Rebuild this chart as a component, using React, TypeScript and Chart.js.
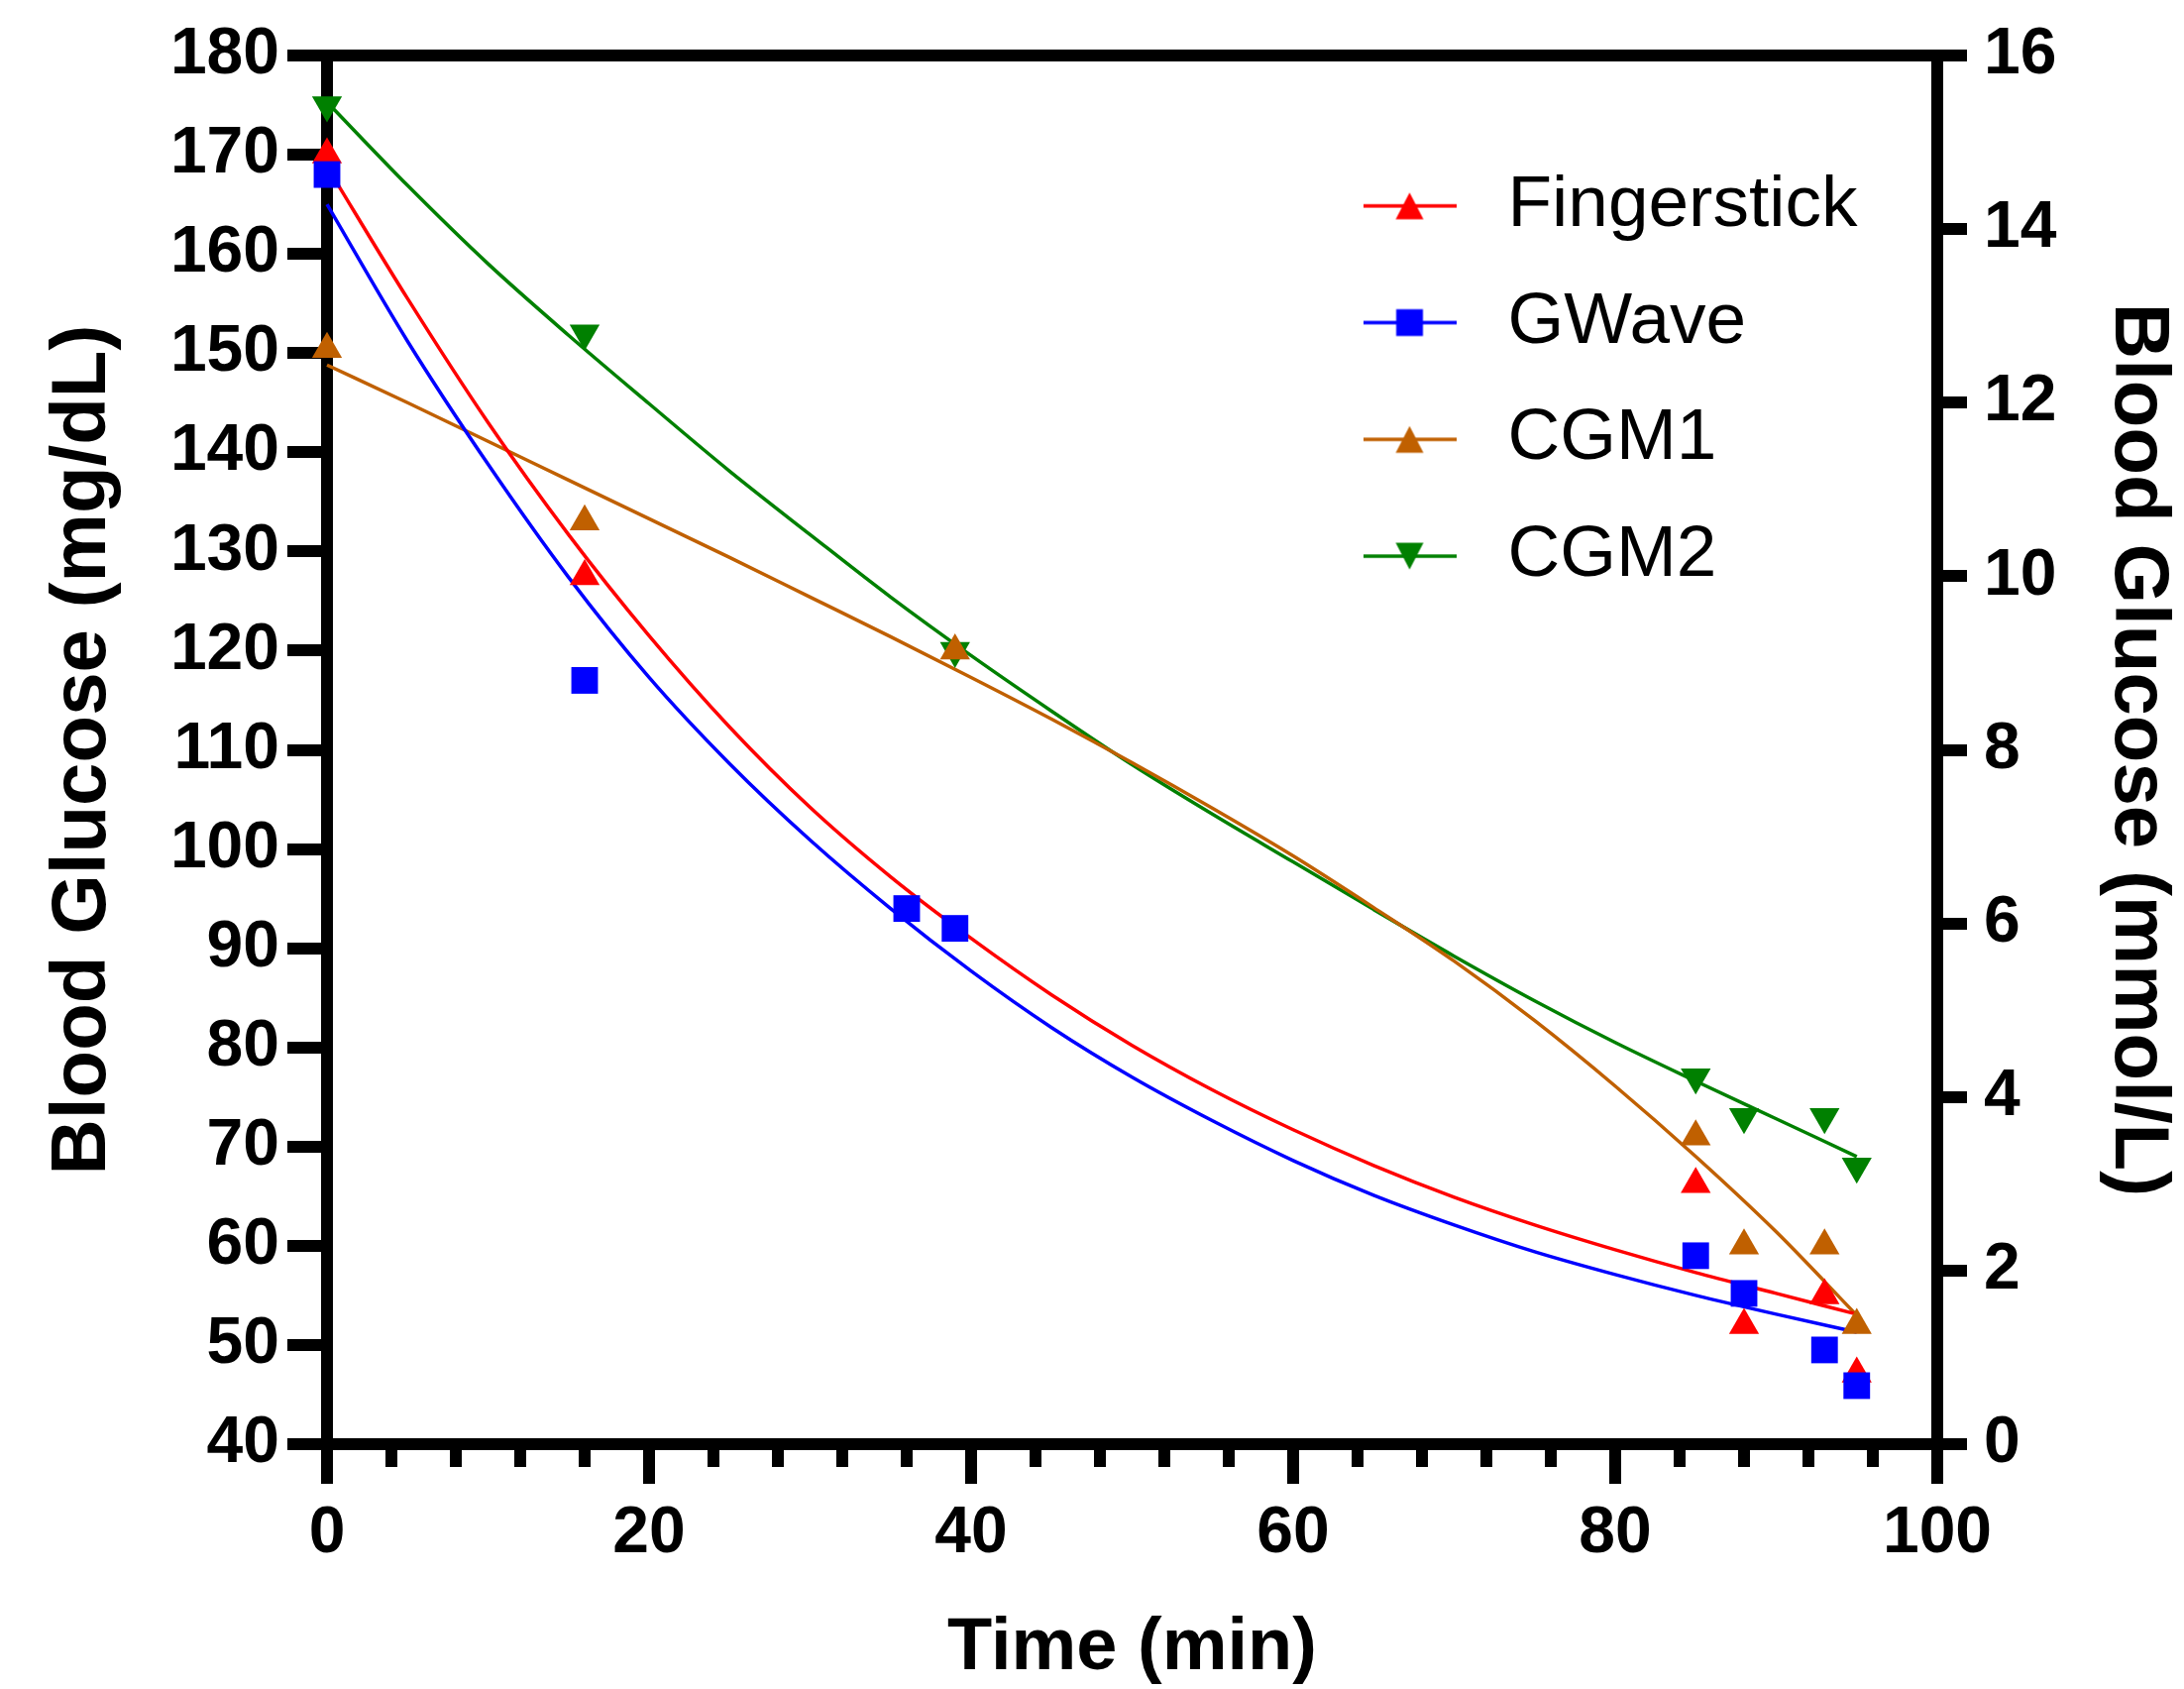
import React, { useEffect, useRef } from 'react';
import { Chart, registerables } from 'chart.js';

Chart.register(...registerables);

const FONT = "'Liberation Sans', Arial, Helvetica, sans-serif";

// ---- Series meta ----
const seriesNames = ['Fingerstick', 'GWave', 'CGM1', 'CGM2'];
const seriesColors = ['#FF0000', '#0000FF', '#C06000', '#008000'];

// ---- Measured points (time in min, glucose in mg/dL) ----
const fingerTime = [0, 16, 85, 88, 93, 95];
const fingerValues = [170, 127.5, 66.2, 52, 55, 47.1];

const gwaveTime = [0, 16, 36, 39, 85, 88, 93, 95];
const gwaveValues = [168, 117, 94, 92, 59, 55.2, 49.5, 45.9];

const cgmTime = [0, 16, 39, 85, 88, 93, 95];
const cgm1Values = [150.4, 133, 120, 71, 60, 60, 52];
const cgm2Values = [175, 152, 120, 77, 73, 73, 68];

// ---- Fitted curves ----
const fitTime = [0, 5, 10, 15, 20, 25, 30, 35, 40, 45, 50, 55, 60, 65, 70, 75, 80, 85, 90, 95];
const fingerFit = [168.8, 155.5, 143.0, 131.7, 121.5, 112.3, 104.2, 97.2, 91.0, 85.3, 80.2, 75.7, 71.7, 68.1, 64.9, 62.1, 59.6, 57.3, 55.2, 53.1];
const gwaveFit = [165.0, 151.2, 138.8, 127.4, 117.3, 108.6, 100.9, 94.0, 87.7, 82.0, 77.0, 72.6, 68.6, 65.1, 62.1, 59.4, 57.1, 55.0, 53.1, 51.3];
const cgm1Fit = [148.8, 145.0, 141.1, 137.2, 133.3, 129.4, 125.4, 121.4, 117.3, 113.1, 108.7, 104.1, 99.3, 94.1, 88.7, 82.7, 76.1, 69.0, 61.4, 53.0];
const cgm2Fit = [175.3, 166.9, 159.0, 151.8, 144.9, 138.1, 131.7, 125.4, 119.5, 113.9, 108.5, 103.5, 98.7, 93.9, 89.2, 84.7, 80.5, 76.6, 72.8, 69.0];

// ---- Tick values ----
const xMajorTicks = [0, 20, 40, 60, 80, 100];
const xMinorTicks = [0, 4, 8, 12, 16, 20, 24, 28, 32, 36, 40, 44, 48, 52, 56, 60, 64, 68, 72, 76, 80, 84, 88, 92, 96, 100];
const yLeftTicks = [40, 50, 60, 70, 80, 90, 100, 110, 120, 130, 140, 150, 160, 170, 180];
const yRightTicks = [0, 2, 4, 6, 8, 10, 12, 14, 16];

const LEGEND_PAD = 44.8;
const LEGEND_X = 1360;
const LEGEND_Y = 171.2;

function makeLegendSymbol(color: string, shape: string): HTMLCanvasElement {
  const c = document.createElement('canvas');
  c.width = 94;
  c.height = 30;
  const ctx = c.getContext('2d') as CanvasRenderingContext2D;
  ctx.strokeStyle = color;
  ctx.lineWidth = 3.5;
  ctx.beginPath();
  ctx.moveTo(0, 15);
  ctx.lineTo(94, 15);
  ctx.stroke();
  ctx.fillStyle = color;
  const cx = 47;
  const cy = 15;
  if (shape === 'rect') {
    ctx.fillRect(cx - 13.5, cy - 13.5, 27, 27);
  } else if (shape === 'up') {
    ctx.beginPath();
    ctx.moveTo(cx, cy - 13.5);
    ctx.lineTo(cx + 14, cy + 13.5);
    ctx.lineTo(cx - 14, cy + 13.5);
    ctx.closePath();
    ctx.fill();
  } else {
    ctx.beginPath();
    ctx.moveTo(cx, cy + 13.5);
    ctx.lineTo(cx + 14, cy - 13.5);
    ctx.lineTo(cx - 14, cy - 13.5);
    ctx.closePath();
    ctx.fill();
  }
  return c;
}

const legendPlacer = {
  id: 'legendPlacer',
  afterLayout(chart: any) {
    const lg = chart.legend;
    if (!lg) return;
    lg.left = LEGEND_X - LEGEND_PAD;
    lg.top = LEGEND_Y - LEGEND_PAD;
    lg.width = 700;
    lg.height = 700;
    lg.right = lg.left + 700;
    lg.bottom = lg.top + 700;
  },
};

export default function App() {
  const ref = useRef<HTMLCanvasElement>(null);

  useEffect(() => {
    const canvas = ref.current;
    if (!canvas) return;

    const symbolShapes = ['up', 'rect', 'up', 'down'];
    const symbols = seriesNames.map((_, i) => makeLegendSymbol(seriesColors[i], symbolShapes[i]));

    const pointSets = [
      { t: fingerTime, v: fingerValues },
      { t: gwaveTime, v: gwaveValues },
      { t: cgmTime, v: cgm1Values },
      { t: cgmTime, v: cgm2Values },
    ];
    const fitSets = [fingerFit, gwaveFit, cgm1Fit, cgm2Fit];
    const pointStyles = ['triangle', 'rect', 'triangle', 'triangle'];
    const rotations = [0, 0, 0, 180];
    const radii = [17.5, 19, 17.5, 17.5];
    const markerOrder = [3, 2, 1, 4];

    const datasets: any[] = [];
    seriesNames.forEach((name, i) => {
      datasets.push({
        label: name,
        data: pointSets[i].t.map((t, k) => ({ x: t, y: pointSets[i].v[k] })),
        showLine: false,
        pointStyle: pointStyles[i],
        pointRotation: rotations[i],
        pointRadius: radii[i],
        pointHoverRadius: radii[i],
        pointBackgroundColor: seriesColors[i],
        pointBorderColor: seriesColors[i],
        pointBorderWidth: 0,
        backgroundColor: seriesColors[i],
        borderColor: seriesColors[i],
        order: markerOrder[i],
        clip: false,
        xAxisID: 'x',
        yAxisID: 'y',
      });
    });
    seriesNames.forEach((name, i) => {
      datasets.push({
        label: name + ' fit',
        data: fitTime.map((t, k) => ({ x: t, y: fitSets[i][k] })),
        showLine: true,
        pointRadius: 0,
        pointHoverRadius: 0,
        borderColor: seriesColors[i],
        backgroundColor: seriesColors[i],
        borderWidth: 3.5,
        cubicInterpolationMode: 'monotone',
        fill: false,
        order: 10,
        clip: false,
        xAxisID: 'x',
        yAxisID: 'y',
      });
    });

    const tickFont = { family: FONT, size: 66, weight: 'bold' as const, lineHeight: 1 };
    const titleFont = { family: FONT, size: 78, weight: 'bold' as const, lineHeight: 1 };

    const chart = new Chart(canvas, {
      type: 'line',
      data: { datasets },
      plugins: [legendPlacer],
      options: {
        responsive: false,
        animation: false,
        devicePixelRatio: 1,
        layout: { padding: { top: 56, left: 0, right: 0, bottom: 0 } },
        plugins: {
          tooltip: { enabled: false },
          legend: {
            display: true,
            position: 'chartArea' as any,
            align: 'start',
            labels: {
              usePointStyle: true,
              pointStyleWidth: 125,
              padding: LEGEND_PAD,
              color: '#000',
              textAlign: 'left',
              font: { family: FONT, size: 73, weight: 'normal' },
              generateLabels: () =>
                seriesNames.map((n, i) => ({
                  text: n,
                  pointStyle: symbols[i] as any,
                  fillStyle: seriesColors[i],
                  strokeStyle: seriesColors[i],
                  lineWidth: 0,
                  hidden: false,
                  datasetIndex: i,
                  fontColor: '#000',
                })),
            },
          },
        },
        scales: {
          x: {
            type: 'linear',
            position: 'bottom',
            min: 0,
            max: 100,
            weight: 1,
            afterBuildTicks: (s: any) => {
              s.ticks = xMajorTicks.map((v) => ({ value: v }));
            },
            afterFit: (s: any) => {
              s.height = 247;
            },
            ticks: { font: tickFont, color: '#000', padding: 18, maxRotation: 0, autoSkip: false },
            grid: { drawOnChartArea: false, drawTicks: true, tickLength: 40, tickWidth: 12, lineWidth: 12, tickColor: '#000', color: '#000' },
            border: { display: true, width: 12, color: '#000' },
            title: {
              display: true,
              text: 'Time (min)',
              color: '#000',
              font: { family: FONT, size: 74, weight: 'bold', lineHeight: 1 },
              padding: { top: 0, bottom: 3 },
            },
          },
          xMinor: {
            type: 'linear',
            position: 'bottom',
            min: 0,
            max: 100,
            weight: 0,
            afterBuildTicks: (s: any) => {
              s.ticks = xMinorTicks.map((v) => ({ value: v }));
            },
            afterFit: (s: any) => {
              s.height = 0;
            },
            ticks: { display: false },
            grid: { drawOnChartArea: false, drawTicks: true, tickLength: 23, tickWidth: 12, lineWidth: 12, tickColor: '#000', color: '#000' },
            border: { display: false },
          },
          xTop: {
            type: 'linear',
            position: 'top',
            min: 0,
            max: 100,
            afterFit: (s: any) => {
              s.height = 0;
            },
            ticks: { display: false },
            grid: { drawOnChartArea: false, drawTicks: false, lineWidth: 12, color: '#000' },
            border: { display: true, width: 12, color: '#000' },
          },
          y: {
            type: 'linear',
            position: 'left',
            min: 40,
            max: 180,
            afterBuildTicks: (s: any) => {
              s.ticks = yLeftTicks.map((v) => ({ value: v }));
            },
            afterFit: (s: any) => {
              s.width = 330;
            },
            ticks: { font: tickFont, color: '#000', padding: 8, autoSkip: false },
            grid: { drawOnChartArea: false, drawTicks: true, tickLength: 40, tickWidth: 12, lineWidth: 12, tickColor: '#000', color: '#000' },
            border: { display: true, width: 12, color: '#000' },
            title: {
              display: true,
              text: 'Blood Glucose (mg/dL)',
              color: '#000',
              font: titleFont,
              padding: { top: 45, bottom: 0 },
            },
          },
          y1: {
            type: 'linear',
            position: 'right',
            min: 0,
            max: 16,
            afterBuildTicks: (s: any) => {
              s.ticks = yRightTicks.map((v) => ({ value: v }));
            },
            afterFit: (s: any) => {
              s.width = 249;
            },
            ticks: { font: tickFont, color: '#000', padding: 17, autoSkip: false },
            grid: { drawOnChartArea: false, drawTicks: true, tickLength: 30, tickWidth: 12, lineWidth: 12, tickColor: '#000', color: '#000' },
            border: { display: true, width: 12, color: '#000' },
            title: {
              display: true,
              text: 'Blood Glucose (mmol/L)',
              color: '#000',
              font: titleFont,
              padding: { top: 8, bottom: 0 },
            },
          },
        },
      } as any,
    });

    return () => {
      chart.destroy();
    };
  }, []);

  return (
    <div style={{ position: 'absolute', left: 0, top: 0, width: 2204, height: 1704, background: '#fff' }}>
      <canvas ref={ref} width={2204} height={1704} style={{ display: 'block' }} />
    </div>
  );
}
